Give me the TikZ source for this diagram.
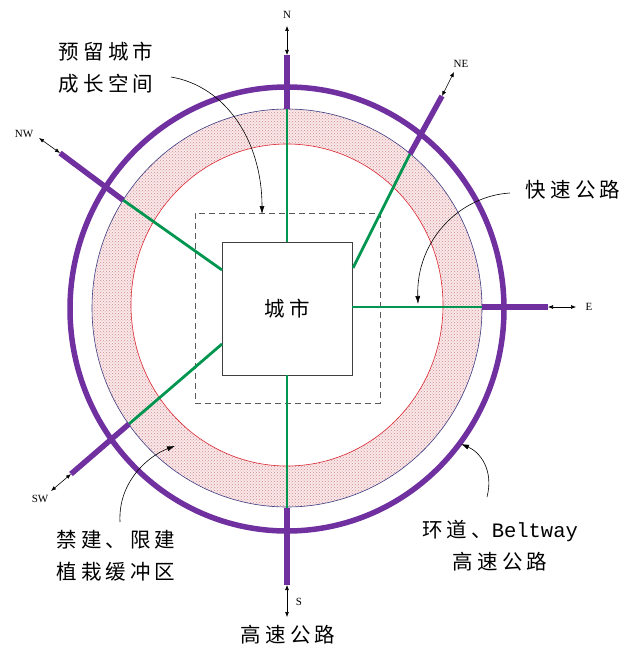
\documentclass[tikz,border=0pt]{standalone}
\usepackage{fontspec}
\newfontfamily\cjkls[LetterSpace=20]{Noto Sans CJK SC}
\newfontfamily\monof{Liberation Mono}
\newfontfamily\dirf{Liberation Serif}
\usetikzlibrary{arrows.meta,patterns}
\definecolor{ringpurple}{RGB}{112,48,160}
\definecolor{roadgreen}{RGB}{0,150,80}
\definecolor{bandpink}{RGB}{250,232,232}
\definecolor{banddot}{RGB}{205,140,150}
\definecolor{bandblue}{RGB}{60,60,130}
\definecolor{bandred}{RGB}{220,40,50}
\tikzset{
  cjklabel/.style={font=\cjkls\fontsize{20.5}{32}\selectfont, align=center, inner sep=0pt},
  dirlabel/.style={font=\dirf\fontsize{11}{12}\selectfont, inner sep=0pt},
  greenroad/.style={draw=roadgreen, line width=2.8pt},
  purpleroad/.style={draw=ringpurple, line width=5.5pt},
  dirarrow/.style={draw=black, line width=0.6pt, {Latex[length=5pt,width=4pt]}-{Latex[length=5pt,width=4pt]}},
  callout/.style={draw=black, line width=0.6pt, -{Latex[length=8pt,width=5pt]}},
}
\begin{document}
\begin{tikzpicture}[x=1pt,y=-1pt]
\useasboundingbox (0,0) rectangle (640,666);
% buffer band
\fill[bandpink, even odd rule] (287,308) ellipse [x radius=195pt, y radius=199pt]
                               (287,305) ellipse [x radius=156pt, y radius=161pt];
\fill[pattern=crosshatch dots, pattern color=banddot, even odd rule] (287,308) ellipse [x radius=195pt, y radius=199pt]
                               (287,305) ellipse [x radius=156pt, y radius=161pt];
\draw[bandred, line width=0.6pt] (287,305) ellipse [x radius=156pt, y radius=161pt];
\draw[bandblue, line width=0.6pt] (287,308) ellipse [x radius=195pt, y radius=199pt];
\draw[ringpurple, line width=5.5pt] (287,309) ellipse [x radius=217pt, y radius=222pt];

% boxes
\node[draw=black!65, dash pattern=on 6pt off 4pt, line width=1pt, minimum width=185pt, minimum height=190pt, inner sep=0pt] (reserve) at (287.5,308) {};
\node[draw=black!75, fill=white, line width=0.8pt, minimum width=130pt, minimum height=133pt, inner sep=0pt, font=\cjkls\fontsize{20.5}{24}\selectfont] (city) at (287,308.5) {城市};

% road points: box end, band edge, stub end, arrow end
\coordinate (nB) at (287,242);  \coordinate (nJ) at (287,109); \coordinate (nP) at (287,55);  \coordinate (nA) at (287,26);
\coordinate (neB) at (353,268); \coordinate (neJ) at (410,154); \coordinate (neP) at (442,96); \coordinate (neA) at (454,72);
\coordinate (nwB) at (222,270); \coordinate (nwJ) at (123,200); \coordinate (nwP) at (60,153); \coordinate (nwA) at (39,138);
\coordinate (swB) at (222,344); \coordinate (swJ) at (129,424); \coordinate (swP) at (71,474); \coordinate (swA) at (51,491);
\coordinate (sB) at (287,375);  \coordinate (sJ) at (287,508); \coordinate (sP) at (287,585);  \coordinate (sA) at (287,617);
\coordinate (eB) at (352,307);  \coordinate (eJ) at (482,307); \coordinate (eP) at (548,307);  \coordinate (eA) at (576,307);

\foreach \r in {n,ne,nw,sw,s,e}{
  \draw[greenroad] (\r B) -- (\r J);
  \draw[purpleroad] (\r J) -- (\r P);
  \draw[dirarrow] (\r P) -- (\r A);
}

% direction labels
\node[dirlabel] (lN) at (287,15) {N};
\node[dirlabel] (lNE) at (461,64) {NE};
\node[dirlabel] (lNW) at (24,134) {NW};
\node[dirlabel] (lSW) at (40,499) {SW};
\node[dirlabel] (lS) at (299,602) {S};
\node[dirlabel] (lE) at (589,307) {E};

% text labels
\node[cjklabel] (reserveTxt) at (106,68) {预留城市\\成长空间};
\node[cjklabel] (expressTxt) at (573,190) {快速公路};
\node[cjklabel] (bufferTxt) at (116,556) {禁建、限建\\植栽缓冲区};
\node[cjklabel] (beltTxt) at (500,546) {环道、{\monof\fontsize{20.5}{24}\selectfont Beltway}\\高速公路};
\node[cjklabel] (hwyTxt) at (288,635) {高速公路};

% callouts
\coordinate (c1s) at (171,77);  \coordinate (c1e) at (262,214);
\coordinate (c2s) at (510,193); \coordinate (c2e) at (418,304);
\coordinate (c3s) at (120,522); \coordinate (c3e) at (175,446);
\coordinate (c4s) at (487,497); \coordinate (c4e) at (461,444);
\draw[callout] (c1s) .. controls (225,86) and (262,140) .. (c1e);
\draw[callout] (c2s) .. controls (460,196) and (416,240) .. (c2e);
\draw[callout] (c3s) .. controls (118,482) and (148,456) .. (c3e);
\draw[callout] (c4s) .. controls (494,470) and (480,452) .. (c4e);
\end{tikzpicture}
\end{document}
